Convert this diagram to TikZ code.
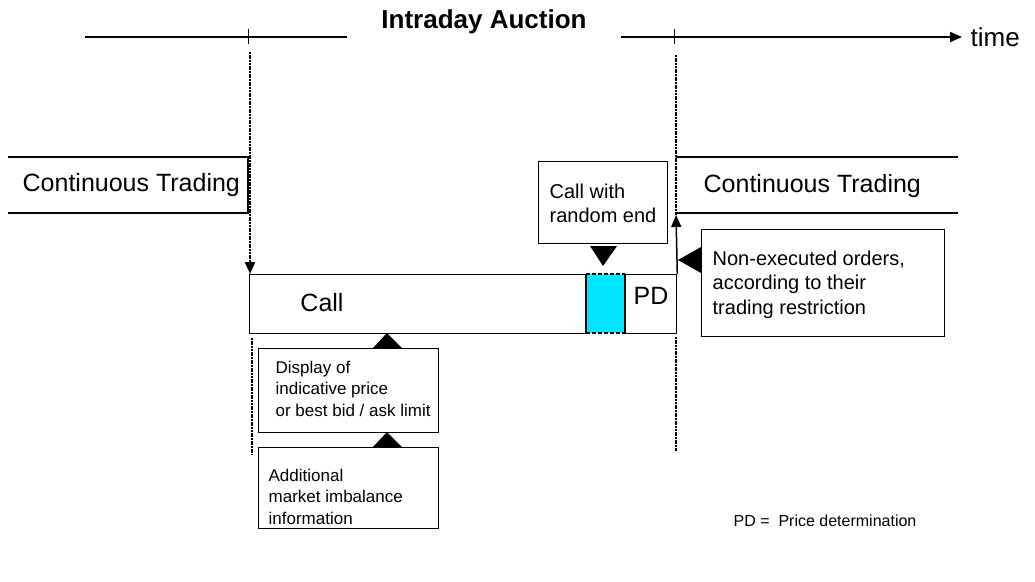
\documentclass[tikz,border=0pt]{standalone}
\usepackage{fontspec}
\setmainfont{Liberation Sans}
\usetikzlibrary{arrows.meta,calc}
\definecolor{cyanfill}{RGB}{0,229,255}
\begin{document}
\begin{tikzpicture}[x=1pt,y=-1pt,line width=1.3pt,
  box/.style={draw,line width=1.3pt,inner sep=0pt,anchor=north west},
  dotln/.style={line width=2.2pt,dash pattern=on 2pt off 0.7pt},
  tri/.style={fill=black,draw=none},
  big/.style={font=\fontsize{25}{30}\selectfont},
  mid/.style={font=\fontsize{20}{24.5}\selectfont,align=left,anchor=west,inner sep=0pt},
  small/.style={font=\fontsize{17}{21.5}\selectfont,align=left,anchor=west,inner sep=0pt},
  tip/.style={-{Triangle[length=12pt,width=10pt]}}]
\useasboundingbox (0,0) rectangle (1035,581);
% time line
\coordinate (tl0) at (85,37);
\coordinate (tl1) at (347,37);
\coordinate (tr0) at (621,37);
\coordinate (tr1) at (962,37);
\draw[line width=1.8pt] (tl0) -- (tl1);
\draw[line width=1.8pt,tip] (tr0) -- (tr1);
\draw[line width=1pt] (248,29) -- (248,44);
\draw[line width=1pt] (674,29) -- (674,44);
\node[font=\fontsize{26}{30}\selectfont\bfseries] (title) at (484,22) {Intraday Auction};
\node[big,anchor=west,inner sep=0pt,font=\fontsize{26}{30}\selectfont] (time) at (970,37) {time};
% continuous trading bands
\draw (8,157) -- (248,157) -- (248,213) -- (8,213);
\node[big,anchor=west,inner sep=0pt] (ctl) at (22,185) {Continuous Trading};
\draw (676,157) -- (958,157);
\draw (676,213) -- (958,213);
\node[big,anchor=west,inner sep=0pt] (ctr) at (703,186) {Continuous Trading};
% call box
\node[box,minimum width=427pt,minimum height=59pt] (call) at (249,274) {};
\draw[white,line width=1.6pt] (586,274) -- (625,274);
\draw[white,line width=1.6pt] (586,333) -- (625,333);
\fill[cyanfill] (586,274) rectangle (625,333);
\draw[dash pattern=on 4pt off 2pt] (586,274) -- (625,274);
\draw[dash pattern=on 4pt off 2pt] (586,333) -- (625,333);
\draw (586,274) -- (586,333);
\draw (625,274) -- (625,333);
\node[big,inner sep=0pt] (calltxt) at (322,303) {Call};
\node[big,inner sep=0pt] (pd) at (651,296) {PD};
% vertical lines and arrows
\coordinate (vl) at (250,52);
\coordinate (vr) at (676,55);
\coordinate (vrtip) at (676,215);
\draw[dotln,tip] (vl) -- ($(call.north west)+(1,0)$);
\draw[dotln] (vr) -- (vrtip);
\draw[line width=1.5pt,tip] (call.north east) -- (vrtip);
\coordinate (vl2a) at (252,338);
\coordinate (vl2b) at (252,455);
\coordinate (vr2a) at (676,337);
\coordinate (vr2b) at (676,451);
\draw[dotln] (vl2a) -- (vl2b);
\draw[dotln] (vr2a) -- (vr2b);
% call with random end
\node[box,minimum width=129pt,minimum height=82pt] (cwr) at (538,161) {};
\node[mid] (cwrtxt) at (549,203.5) {Call with\\random end};
\fill[tri] (590,246) -- (617,246) -- (603,266) -- cycle;
% non-executed orders
\node[box,minimum width=243pt,minimum height=107pt] (nex) at (701,229) {};
\node[mid] (nextxt) at (712,284.5) {Non-executed orders,\\according to their\\trading restriction};
\fill[tri] (678,260) -- (701,247) -- (701,273) -- cycle;
% display box
\node[box,minimum width=180pt,minimum height=84pt] (disp) at (258,348) {};
\node[small] (disptxt) at (275,388.5) {Display of\\indicative price\\or best bid / ask limit};
\fill[tri] (387,333) -- (373,348) -- (402,348) -- cycle;
% additional box
\node[box,minimum width=180pt,minimum height=81pt] (addl) at (258,447) {};
\node[small] (addltxt) at (268,496.5) {Additional\\market imbalance\\information};
\fill[tri] (387,432) -- (373,447) -- (402,447) -- cycle;
% legend
\node[anchor=west,inner sep=0pt,font=\fontsize{16}{19}\selectfont] (legend) at (733,521) {PD =\ \ Price determination};
\end{tikzpicture}
\end{document}
